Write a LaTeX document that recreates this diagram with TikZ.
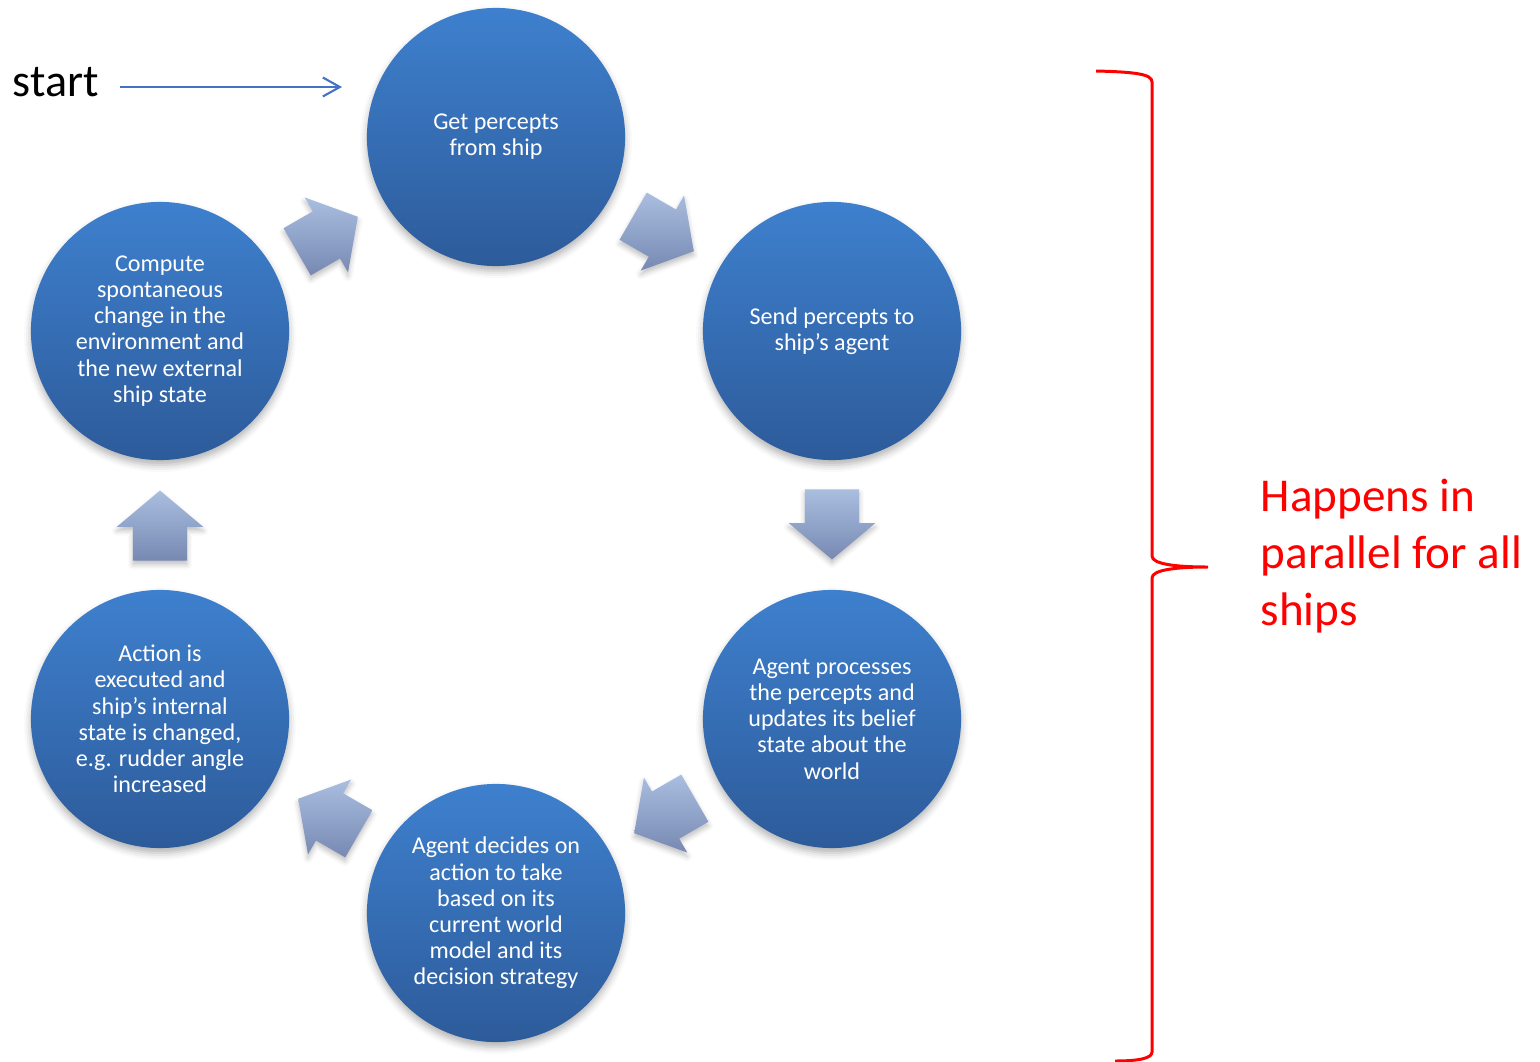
\documentclass[tikz,border=0pt]{standalone}
\usepackage{fontspec}
\setmainfont{Carlito}
\usetikzlibrary{shapes.arrows,shadows.blur,calc,arrows.meta}
\definecolor{disctop}{HTML}{3E80CE}
\definecolor{discbot}{HTML}{2D5B9A}
\definecolor{flowtop}{HTML}{AABEE0}
\definecolor{flowbot}{HTML}{7789B2}
\definecolor{startblue}{HTML}{4472C4}
\definecolor{braced}{HTML}{FF0000}
\tikzset{
  stage/.style={circle, minimum size=2.58cm, inner sep=0pt, align=center,
    text=white, font=\fontsize{6.85}{7.45}\selectfont,
    top color=disctop, bottom color=discbot,
    blur shadow={shadow xshift=0pt, shadow yshift=-0.5mm,
      shadow blur radius=0.7mm, shadow opacity=30}},
  flow/.style={single arrow, minimum height=0.7cm, minimum width=0.85cm,
    single arrow head extend=0.16cm, single arrow tip angle=100,
    inner xsep=0pt, inner ysep=0.265cm, top color=flowtop, bottom color=flowbot,
    blur shadow={shadow xshift=0pt, shadow yshift=-0.4mm,
      shadow blur radius=0.5mm, shadow opacity=25}},
  startline/.style={draw=startblue, line width=0.6pt,
    -{Straight Barb[length=1.7mm, width=1.9mm, line width=0.6pt]}}
}
\begin{document}
\begin{tikzpicture}[x=0.01cm, y=0.01cm]
  \useasboundingbox (0,0) rectangle (1540,-1061);

  % the six stages of the cycle
  \node[stage] (get)    at (496,-137) {Get percepts\\from ship};
  \node[stage] (send)   at (832,-331) {Send percepts to\\ship’s agent};
  \node[stage] (proc)   at (832,-719) {Agent processes\\the percepts and\\updates its belief\\state about the\\world};
  \node[stage] (decide) at (496,-913) {Agent decides on\\action to take\\based on its\\current world\\model and its\\decision strategy};
  \node[stage] (act)    at (160,-719) {Action is\\executed and\\ship’s internal\\state is changed,\\e.g. rudder angle\\increased};
  \node[stage] (comp)   at (160,-331) {Compute\\spontaneous\\change in the\\environment and\\the new external\\ship state};

  % block arrows between the stages
  \node[flow, rotate=-30, xshift=-0.12cm] (f1) at ($(get)!0.5!(send)$) {};
  \node[flow, rotate=-90, xshift=-0.12cm] (f2) at ($(send)!0.5!(proc)$) {};
  \node[flow, rotate=210, xshift=-0.12cm] (f3) at ($(proc)!0.5!(decide)$) {};
  \node[flow, rotate=150, xshift=-0.12cm] (f4) at ($(decide)!0.5!(act)$) {};
  \node[flow, rotate=90, xshift=-0.12cm]  (f5) at ($(act)!0.5!(comp)$) {};
  \node[flow, rotate=30, xshift=-0.12cm]  (f6) at ($(comp)!0.5!(get)$) {};

  % start marker
  \node[anchor=base west, inner sep=0pt, font=\fontsize{13.1}{15}\selectfont] (start) at (12,-97) {start};
  \coordinate (startend) at (342,-87);
  \draw[startline] ($(start.base east)+(21,10)$) -- (startend);

  % brace and its note
  \coordinate (bracetip) at (1208,-567);
  \draw[braced, line width=0.85pt]
    (1096,-71) .. controls (1135,-72) and (1152,-74) .. (1152,-82)
    -- (1152,-556) .. controls (1152,-564) and (1175,-567) .. (bracetip)
    .. controls (1175,-567) and (1152,-570) .. (1152,-578)
    -- (1152,-1052) .. controls (1152,-1058) and (1140,-1061) .. (1115,-1061);
  \node[anchor=west, inner sep=0pt, align=left, text=braced,
    font=\fontsize{13.4}{16.2}\selectfont] (note) at (1260,-556)
    {Happens in\\parallel for all\\ships};
\end{tikzpicture}
\end{document}
